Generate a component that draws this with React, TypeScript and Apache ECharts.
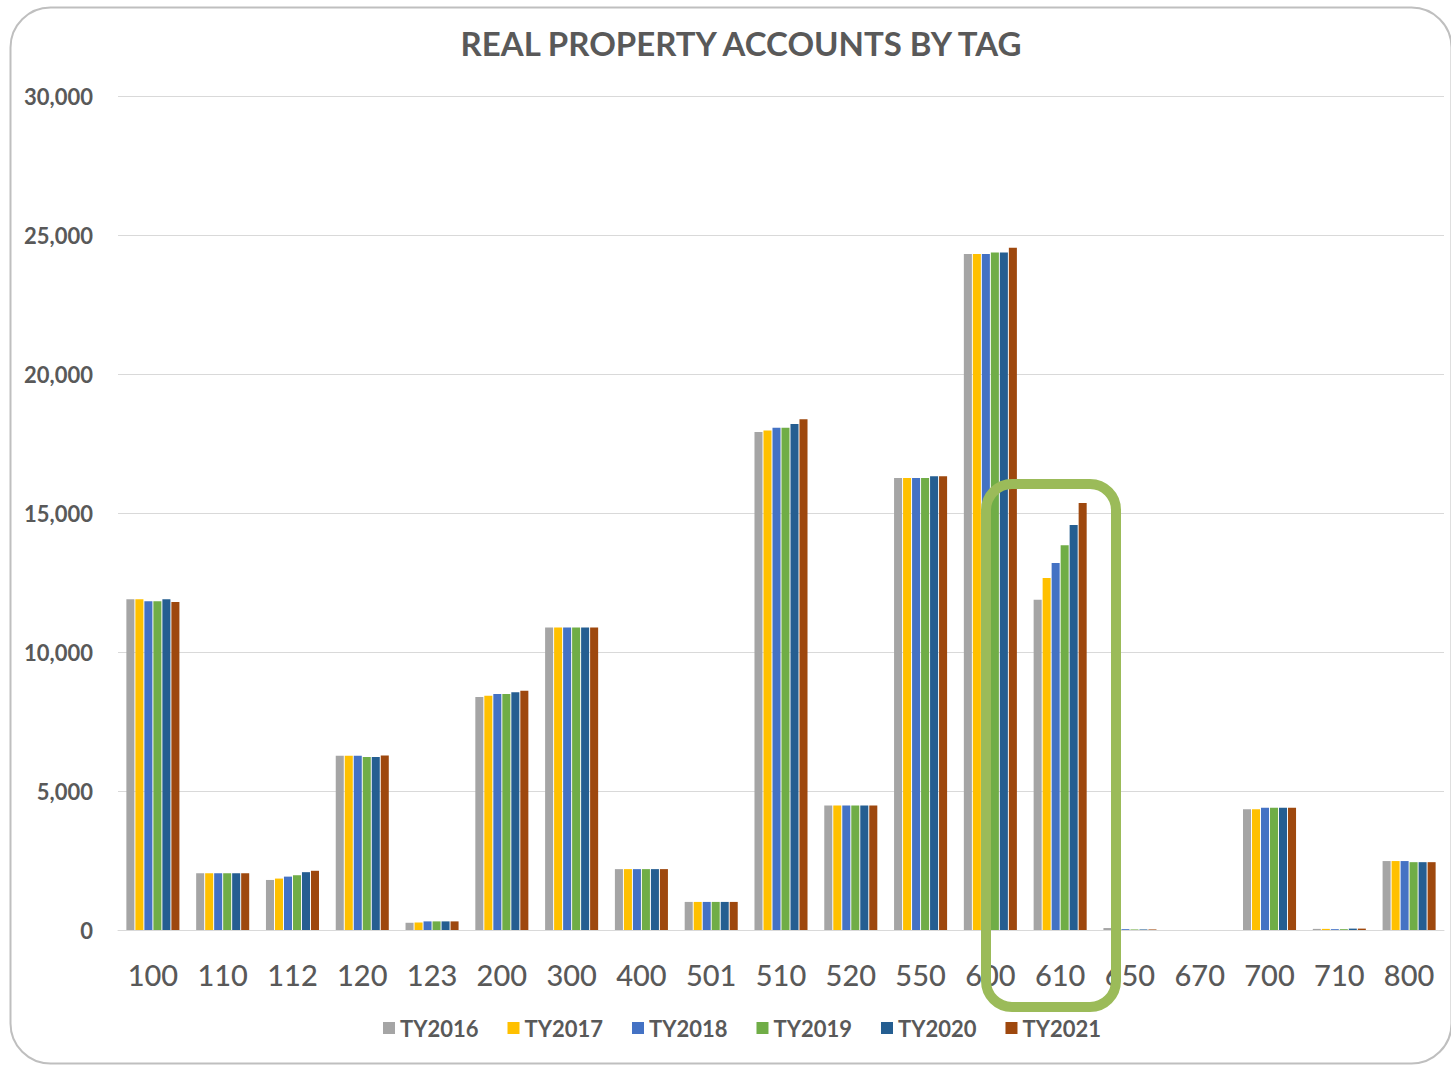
import React, { useEffect, useRef } from "react";
import * as echarts from "echarts";

const categories = ["100", "110", "112", "120", "123", "200", "300", "400", "501", "510", "520", "550", "600", "610", "650", "670", "700", "710", "800"];
const seriesNames = ["TY2016", "TY2017", "TY2018", "TY2019", "TY2020", "TY2021"];
const colors = ["#A5A5A5", "#FFC000", "#4472C4", "#70AD47", "#255E91", "#9E480E"];

const ty2016 = [11900, 2040, 1800, 6270, 260, 8380, 10880, 2190, 1010, 17910, 4480, 16260, 24320, 11880, 70, 0, 4340, 40, 2480];
const ty2017 = [11900, 2040, 1850, 6270, 270, 8430, 10880, 2190, 1010, 17970, 4480, 16260, 24320, 12660, 70, 0, 4340, 40, 2480];
const ty2018 = [11830, 2040, 1920, 6270, 310, 8490, 10880, 2190, 1010, 18070, 4480, 16260, 24320, 13200, 30, 0, 4400, 30, 2480];
const ty2019 = [11830, 2040, 1970, 6220, 310, 8490, 10880, 2190, 1010, 18070, 4480, 16260, 24370, 13840, 20, 0, 4400, 30, 2440];
const ty2020 = [11900, 2040, 2080, 6220, 310, 8550, 10880, 2190, 1010, 18200, 4480, 16320, 24370, 14570, 20, 0, 4400, 50, 2440];
const ty2021 = [11800, 2040, 2130, 6280, 310, 8610, 10880, 2190, 1010, 18370, 4480, 16320, 24540, 15360, 20, 0, 4400, 50, 2440];
const seriesData = [ty2016, ty2017, ty2018, ty2019, ty2020, ty2021];

const yMin = 0;
const yMax = 30000;
const yInterval = 5000;

export default function App() {
  const ref = useRef<HTMLDivElement>(null);
  useEffect(() => {
    if (!ref.current) return;
    const chart = echarts.init(ref.current, null, { renderer: "svg" });
    const font = "Lato, 'Open Sans', sans-serif";
    chart.setOption({
      animation: false,
      backgroundColor: "#ffffff",
      title: {
        text: "REAL PROPERTY ACCOUNTS BY TAG",
        left: 736,
        textAlign: "center",
        top: 21,
        textStyle: { fontFamily: font, fontSize: 33, fontWeight: "bold", color: "#595959" },
      },
      legend: {
        data: seriesNames,
        top: 1012,
        left: 378,
        itemWidth: 12,
        itemHeight: 12,
        itemGap: 29,
        icon: "rect",
        textStyle: { fontFamily: font, fontSize: 22, fontWeight: "bold", color: "#595959" },
      },
      grid: { left: 118, right: 7, top: 96, bottom: 136, containLabel: false },
      xAxis: {
        type: "category",
        data: categories,
        axisLine: { lineStyle: { color: "#D9D9D9", width: 1 } },
        axisTick: { show: false },
        axisLabel: { fontFamily: font, fontSize: 29, fontWeight: 500, color: "#595959", margin: 30, interval: 0 },
      },
      yAxis: {
        type: "value",
        min: yMin,
        max: yMax,
        interval: yInterval,
        axisLine: { show: false },
        axisTick: { show: false },
        splitLine: { lineStyle: { color: "#D9D9D9", width: 1 } },
        axisLabel: {
          fontFamily: font,
          fontSize: 22,
          fontWeight: "bold",
          color: "#595959",
          margin: 25,
          formatter: (v: number) => v.toLocaleString("en-US"),
        },
      },
      series: seriesNames.map((name, i) => ({
        name,
        type: "bar",
        data: seriesData[i],
        itemStyle: { color: colors[i] },
        barGap: "12%",
        barCategoryGap: "24%",
      })),
      graphic: [
        {
          type: "rect",
          left: 8,
          top: 5,
          shape: { x: 0, y: 0, width: 1441, height: 1056, r: 40 },
          style: { fill: "none", stroke: "#BFBFBF", lineWidth: 2 },
          silent: true,
          z: 100,
        },
        {
          type: "rect",
          shape: { x: 986, y: 484, width: 130, height: 523, r: 26 },
          style: { fill: "none", stroke: "#9BBB59", lineWidth: 10 },
          silent: true,
          z: 100,
        },
      ],
    });
    return () => chart.dispose();
  }, []);
  return (
    <div
      ref={ref}
      style={{ position: "absolute", left: 0, top: 0, width: 1451, height: 1066 }}
    />
  );
}
